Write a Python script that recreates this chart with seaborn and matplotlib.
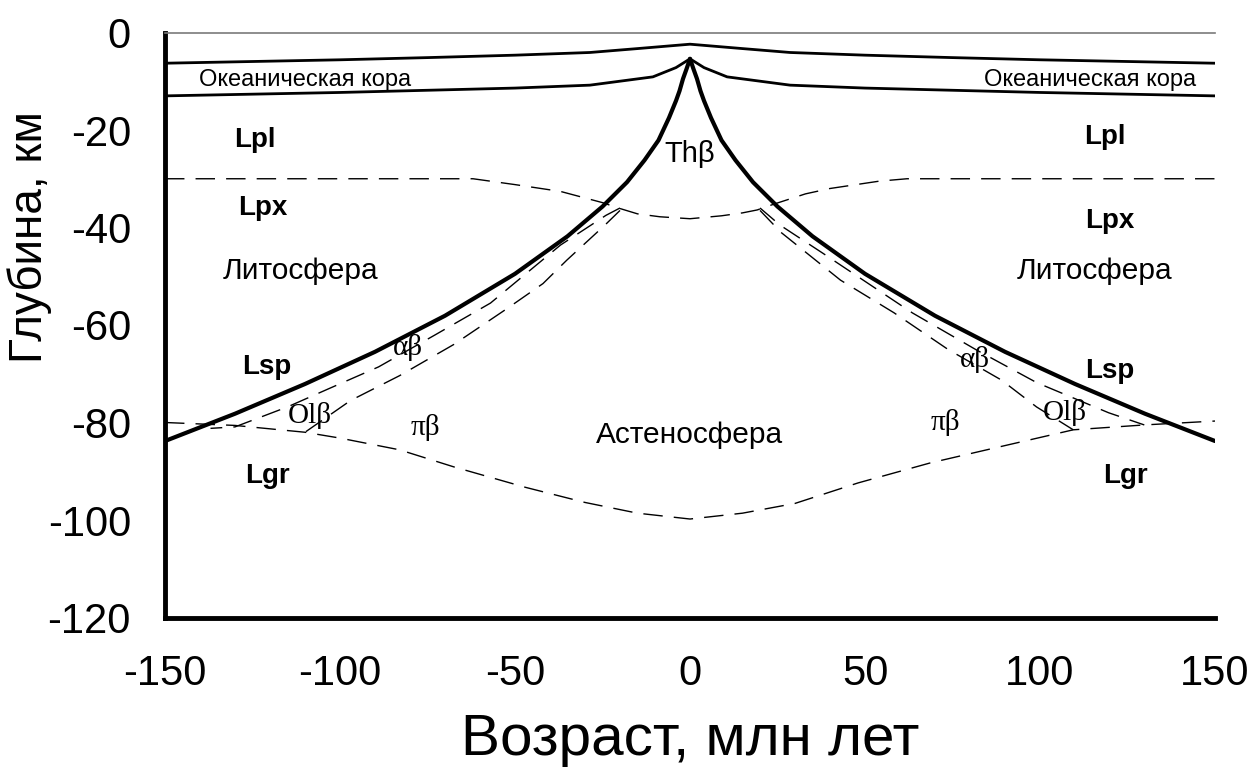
import matplotlib
matplotlib.use("Agg")
import matplotlib.pyplot as plt
import seaborn as sns
import pandas as pd
from matplotlib import font_manager

# ---------------- data ----------------
# sea floor (top of oceanic crust)
floor_x = [-150, -125, -100, -75, -50, -28.6, -15, -5, 0, 5, 15, 28.6, 50, 75, 100, 125, 150]
floor_y = [-6.3, -5.95, -5.6, -5.15, -4.65, -4.1, -3.3, -2.7, -2.4, -2.7, -3.3, -4.1, -4.65, -5.15, -5.6, -5.95, -6.3]

# base of oceanic crust
moho_x = [-150, -100, -50, -28.6, -10.6, -4, 0, 4, 10.6, 28.6, 50, 100, 150]
moho_y = [-13.0, -12.3, -11.4, -10.8, -9.1, -7.2, -5.4, -7.2, -9.1, -10.8, -11.4, -12.3, -13.0]

# base of lithosphere (thick solid), left and right branches
lith_left_x = [0, -1, -2, -3, -4, -6, -9, -13, -18, -25, -35, -50, -70, -90, -110, -130, -150]
lith_left_y = [-5.4, -7.5, -9.5, -12.0, -14.0, -17.5, -22.1, -26.2, -30.7, -35.7, -41.8, -49.5, -58.1, -65.5, -72.1, -78.2, -83.8]
lith_right_x = [0, 1, 2, 3, 4, 6, 9, 13, 18, 25, 35, 50, 70, 90, 110, 130, 150]
lith_right_y = [-5.4, -7.5, -9.5, -12.0, -14.0, -17.5, -22.1, -26.2, -30.7, -35.7, -41.8, -49.5, -58.1, -65.5, -72.1, -78.2, -83.8]

# Lpl / Lpx boundary
lplx_x = [-150, -62, -50, -37, -25, -20.5, -15, -8.6, 0, 9, 15, 19.2, 24, 33, 40, 54, 62, 150]
lplx_y = [-30, -30, -31.2, -32.6, -34.9, -36.0, -37.2, -37.8, -38.2, -37.6, -37.0, -36.4, -35.2, -33.1, -32.0, -30.5, -30, -30]

# Lsp / Lgr boundary and base of melting region
lgr_x = [-150, -130, -110, -100, -83, -67.5, -47, -30, -15, 0, 15, 30, 48, 68.6, 89, 109.5, 129.8, 150]
lgr_y = [-80.0, -80.6, -82.0, -83.2, -85.6, -89.1, -93.3, -96.4, -98.6, -99.8, -98.6, -96.6, -92.4, -88.3, -84.9, -81.5, -80.5, -79.7]

# alpha-beta / Ol-beta boundaries (left)
a_left_x = [-20, -24, -37, -57, -73, -89, -103, -115, -130, -137]
a_left_y = [-36.0, -37.5, -43.6, -55.5, -62.1, -68.6, -73.0, -76.8, -80.9, -81.2]
b_left_x = [-20, -24.3, -35.2, -42, -52, -67.5, -83, -97, -110]
b_left_y = [-36.5, -39.5, -46.7, -51.5, -56.5, -64.0, -70.4, -75.5, -82.0]
# (right)
a_right_x = [20, 25.7, 38, 63.5, 81.8, 99, 119.6, 129.8]
a_right_y = [-36.0, -39.5, -45.3, -57.5, -65.1, -71.8, -78.0, -80.5]
b_right_x = [20, 26, 43, 58.3, 73.7, 89, 99, 109.5]
b_right_y = [-36.5, -41.0, -50.8, -57.5, -65.0, -71.3, -76.8, -81.5]

x_ticks = [-150, -100, -50, 0, 50, 100, 150]
y_ticks = [-120, -100, -80, -60, -40, -20, 0]

crust_labels = ["Океаническая кора", "Океаническая кора"]
crust_lx = [-110, 114.3]
crust_ly = [-9.7, -9.7]

zone_labels = ["Lpl", "Lpl", "Lpx", "Lpx", "Lsp", "Lsp", "Lgr", "Lgr"]
zone_lx = [-124.3, 118.6, -122, 120, -121, 120, -120.6, 124.3]
zone_ly = [-22, -21.5, -36, -38.6, -68.6, -69.5, -91, -91]

big_labels = ["Литосфера", "Литосфера", "Астеносфера"]
big_lx = [-111.4, 115.7, 0]
big_ly = [-49, -49, -82.5]

greek_labels = ["αβ", "αβ", "Olβ", "Olβ", "πβ", "πβ"]
greek_lx = [-80.6, 81.4, -108.6, 107, -75.7, 72.9]
greek_ly = [-64.7, -67, -78.5, -78, -81, -80]

# ---------------- style ----------------
sns.set_style("white")
names = {f.name for f in font_manager.fontManager.ttflist}
sans = "Liberation Sans" if "Liberation Sans" in names else "DejaVu Sans"
narrow = "Liberation Sans Narrow" if "Liberation Sans Narrow" in names else sans
serif = "Liberation Serif" if "Liberation Serif" in names else "DejaVu Serif"
plt.rcParams["font.family"] = [sans, "DejaVu Sans"]
plt.rcParams["text.color"] = "black"
plt.rcParams["axes.labelcolor"] = "black"
plt.rcParams["xtick.color"] = "black"
plt.rcParams["ytick.color"] = "black"

fig = plt.figure(figsize=(12.56, 7.67), dpi=100)
ax = fig.add_axes([165 / 1256, 1 - 617.5 / 767, 1050 / 1256, 585 / 767])


def line(xs, ys, lw, ls="-", color="black", dashes=None):
    df = pd.DataFrame({"x": xs, "y": ys})
    sns.lineplot(data=df, x="x", y="y", ax=ax, color=color, linewidth=lw,
                 estimator=None, sort=False, linestyle=ls)
    ln = ax.lines[-1]
    if dashes is not None:
        ln.set_dashes(dashes)
    return ln


line(floor_x, floor_y, 2.0)
line(moho_x, moho_y, 2.0)
line(lith_left_x, lith_left_y, 3.0)
line(lith_right_x, lith_right_y, 3.0)
for xs, ys in [(lplx_x, lplx_y), (lgr_x, lgr_y), (a_left_x, a_left_y), (b_left_x, b_left_y),
               (a_right_x, a_right_y), (b_right_x, b_right_y)]:
    line(xs, ys, 1.0, ls="--", dashes=(14, 8))

ax.set_xlim(-150, 150)
ax.set_ylim(-120, 0)
ax.set_xticks(x_ticks)
ax.set_yticks(y_ticks)
ax.set_xticklabels([str(v) for v in x_ticks])
ax.set_yticklabels([str(v) for v in y_ticks])
ax.tick_params(axis="both", direction="out", length=14.5, width=2.8, labelsize=30,
               colors="black", pad=10)
ax.tick_params(axis="x", pad=12)
for s in ["left", "bottom"]:
    ax.spines[s].set_linewidth(3.5)
    ax.spines[s].set_color("black")
ax.spines["right"].set_visible(False)
ax.spines["top"].set_color("#7a7a7a")
ax.spines["top"].set_linewidth(1.2)

ax.set_xlabel("Возраст, млн лет", fontsize=42)
ax.set_ylabel("Глубина, км", fontsize=33)
ax.xaxis.set_label_coords(0.5, -0.163)
ax.yaxis.set_label_coords(-0.108, 0.65)

for t, x, y in zip(crust_labels, crust_lx, crust_ly):
    ax.text(x, y, t, fontsize=17, family=[narrow, "DejaVu Sans"], ha="center", va="center")
for t, x, y in zip(zone_labels, zone_lx, zone_ly):
    ax.text(x, y, t, fontsize=20, fontweight="bold", ha="center", va="center")
for t, x, y in zip(big_labels, big_lx, big_ly):
    ax.text(x, y, t, fontsize=21.5, family=[narrow, "DejaVu Sans"], ha="center", va="center")
for t, x, y in zip(greek_labels, greek_lx, greek_ly):
    ax.text(x, y, t, fontsize=21, family=[serif, "DejaVu Serif"], ha="center", va="center")
ax.text(0, -25, "Thβ", fontsize=21, ha="center", va="center")

fig.savefig("out.png", dpi=100)
